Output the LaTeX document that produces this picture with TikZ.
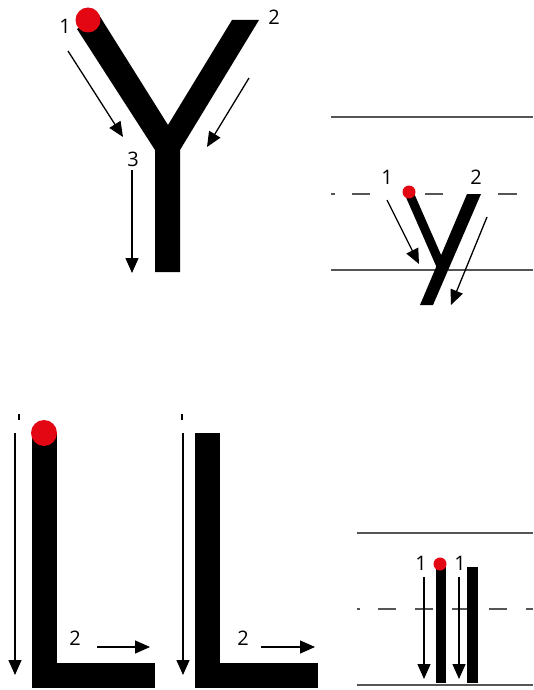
\documentclass[tikz,border=0pt]{standalone}
\usepackage{fontspec}
\setmainfont{Open Sans}
\usetikzlibrary{arrows.meta}
\definecolor{dotred}{HTML}{E30613}
\definecolor{rule}{HTML}{555555}
\tikzset{
  num/.style={inner sep=0pt,font=\fontsize{20}{24}\selectfont},
  guide/.style={draw=rule,line width=2.6pt},
  tip/.style={-{Triangle[length=15pt,width=13pt]},line width=1.3pt},
}
\begin{document}
\begin{tikzpicture}[x=1pt,y=-1pt]
      \useasboundingbox (0,0) rectangle (533,690);
      % guide lines
      \draw[guide] (331,117) -- (533,117);
      \draw[guide,dash pattern=on 4pt off 17pt on 18pt off 55pt on 18pt off 55pt on 19pt off 100pt] (331,194) -- (520,194);
      \draw[guide] (331,270) -- (533,270);
      \draw[guide] (357,533) -- (533,533);
      \draw[guide,dash pattern=on 3pt off 18pt on 18pt off 19pt on 18pt off 19pt on 18pt off 19pt on 18pt off 19pt on 18pt off 19pt] (357,609) -- (533,609);
      \draw[guide] (357,685) -- (533,685);
      % letters
      \fill (77,29) -- (99,15) -- (168,125) -- (232,20) -- (259,20) -- (180,150)
            -- (180,272) -- (155,272) -- (155,150) -- cycle;
      \fill (467,194) -- (481,194) -- (433,305) -- (420,305) -- cycle;
      \draw[line width=9pt] (409,193) -- (441,266);
      \fill (32,433) rectangle (57,688);
      \fill (57,663) rectangle (155,688);
      \fill (195,433) rectangle (220,688);
      \fill (220,663) rectangle (318,688);
      \fill (436,567) rectangle (446,683);
      \fill (467,567) rectangle (478,683);
      % start dots
      \begin{scope}[every node/.style={circle,fill=dotred,inner sep=0pt}]
        \node[minimum size=25pt] (s1) at (88,20) {};
        \node[minimum size=13pt] (s2) at (409,192) {};
        \node[minimum size=26pt] (s3) at (44,433) {};
        \node[minimum size=13pt] (s4) at (440,564) {};
      \end{scope}
      % stroke numbers
      \begin{scope}[every node/.style={num}]
        \node (n1) at (65,26) {1};
        \node (n2) at (274,17) {2};
        \node (n3) at (133,159) {3};
        \node (m1) at (387,177) {1};
        \node (m2) at (476,177) {2};
        \node (p2) at (75,638) {2};
        \node (q2) at (243,638) {2};
        \node (r1) at (421,563) {1};
        \node (r2) at (460,563) {1};
      \end{scope}
      % arrow ends
      \coordinate (a1) at (68,51);   \coordinate (b1) at (123,137);
      \coordinate (a2) at (249,78);  \coordinate (b2) at (207,147);
      \coordinate (a3) at (132,170); \coordinate (b3) at (132,273);
      \coordinate (c1) at (387,200); \coordinate (d1) at (419,264);
      \coordinate (c2) at (487,217); \coordinate (d2) at (451,305);
      \coordinate (e1) at (15,433);  \coordinate (f1) at (15,675);
      \coordinate (e2) at (97,647);  \coordinate (f2) at (150,647);
      \coordinate (g1) at (183,433); \coordinate (h1) at (183,675);
      \coordinate (g2) at (261,647); \coordinate (h2) at (315,647);
      \coordinate (k1) at (424,577); \coordinate (l1) at (424,679);
      \coordinate (k2) at (459,577); \coordinate (l2) at (459,679);
      \begin{scope}[every edge/.style={draw=black,tip}]
          \path (a1) edge (b1);
          \path (a2) edge (b2);
          \path (a3) edge (b3);
          \path (c1) edge (d1);
          \path (c2) edge (d2);
          \path (e1) edge (f1);
          \path (e2) edge (f2);
          \path (g1) edge (h1);
          \path (g2) edge (h2);
          \path (k1) edge (l1);
          \path (k2) edge (l2);
      \end{scope}
      % cut-off marks
      \draw[line width=2pt] (19,414) -- (19,420);
      \draw[line width=2pt] (182,414) -- (182,420);
\end{tikzpicture}
\end{document}
